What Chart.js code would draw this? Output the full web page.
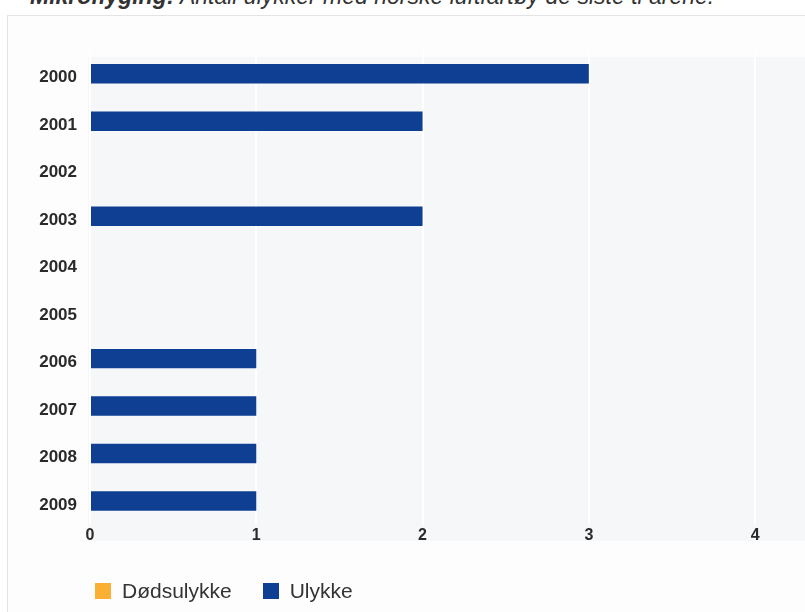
<!DOCTYPE html>
<html lang="no">
<head>
<meta charset="utf-8">
<title>Antall ulykker</title>
<script src="https://cdn.jsdelivr.net/npm/chart.js@4"></script>
<style>
  body { margin: 0; background: #fff; font-family: "Liberation Sans", Arial, sans-serif; overflow: hidden; }
  #tittel { position: absolute; left: 30px; top: -17px; font-size: 23px; line-height: 26px; font-style: italic; color: #333; white-space: nowrap; }
  #ramme { position: absolute; left: 7px; top: 15px; width: 820px; height: 620px; border: 1px solid #e4e4e4; background: #fdfdfd; }
  #figur { position: absolute; left: 0; top: 0; }
  #forklaring { position: absolute; left: 95px; top: 579px; display: flex; align-items: center; font-size: 21px; color: #333; }
  .punkt { display: flex; align-items: center; margin-right: 31px; }
  .boks { width: 16px; height: 16px; margin-right: 11px; }
</style>
</head>
<body>
<div id="tittel"><b>Mikroflyging:</b> Antall ulykker med norske luftfartøy de siste ti årene.</div>
<div id="ramme"></div>
<canvas id="figur" width="805" height="612"></canvas>
<div id="forklaring"></div>
<script>
const aar = ['2000', '2001', '2002', '2003', '2004', '2005', '2006', '2007', '2008', '2009'];
const dodsulykker = [0, 0, 0, 0, 0, 0, 0, 0, 0, 0];
const ulykker = [3, 2, 0, 2, 0, null, 1, 1, 1, 1];
const xMaks = 4.3;

const farger = ['#fbb034', '#0f3f93'];

// grå bakgrunn bak plottet og akseverdiene
const plotBakgrunn = {
  id: 'plotBakgrunn',
  beforeDraw(chart) {
    const { ctx, chartArea } = chart;
    ctx.save();
    ctx.fillStyle = '#f6f7f9';
    ctx.fillRect(chartArea.left - 2, chartArea.top + 7,
      chart.width - chartArea.left + 2, chartArea.bottom - chartArea.top + 9);
    ctx.restore();
  }
};

const config = {
  type: 'bar',
  data: {
    labels: aar,
    datasets: [{
      label: 'Dødsulykke',
      data: dodsulykker,
      backgroundColor: farger[0]
    }, {
      label: 'Ulykke',
      data: ulykker,
      backgroundColor: farger[1],
      minBarLength: 1
    }]
  },
  options: {
    indexAxis: 'y',
    responsive: false,
    animation: false,
    devicePixelRatio: 1,
    barPercentage: 0.41,
    categoryPercentage: 1,
    layout: { padding: { top: 50, bottom: 66, left: 0, right: 0 } },
    scales: {
      x: {
        stacked: true,
        min: 0,
        max: xMaks,
        afterBuildTicks: (scale) => {
          scale.ticks = scale.ticks.filter(t => Number.isInteger(t.value));
        },
        grid: { color: 'rgba(255,255,255,0.95)', lineWidth: 2, drawTicks: false },
        border: { display: false },
        ticks: {
          stepSize: 1,
          padding: 1,
          color: '#2a2a2a',
          font: { family: '"Liberation Sans", Arial, sans-serif', size: 16, weight: 'bold' }
        }
      },
      y: {
        stacked: true,
        afterFit: (scale) => { scale.width = 90; },
        grid: { display: false, drawTicks: false },
        border: { display: false },
        ticks: {
          padding: 13,
          labelOffset: 4,
          color: '#2a2a2a',
          font: { family: '"Liberation Sans", Arial, sans-serif', size: 17, weight: 'bold' }
        }
      }
    },
    plugins: {
      legend: { display: false },
      tooltip: { enabled: false }
    }
  },
  plugins: [plotBakgrunn]
};

window.onload = function() {
  const ctx = document.getElementById('figur').getContext('2d');
  const chart = new Chart(ctx, config);

  // forklaring under figuren
  const boks = document.getElementById('forklaring');
  chart.data.datasets.forEach(ds => {
    const punkt = document.createElement('div');
    punkt.className = 'punkt';
    const farge = document.createElement('div');
    farge.className = 'boks';
    farge.style.background = ds.backgroundColor;
    const tekst = document.createElement('span');
    tekst.textContent = ds.label;
    punkt.appendChild(farge);
    punkt.appendChild(tekst);
    boks.appendChild(punkt);
  });
};
</script>
</body>
</html>
